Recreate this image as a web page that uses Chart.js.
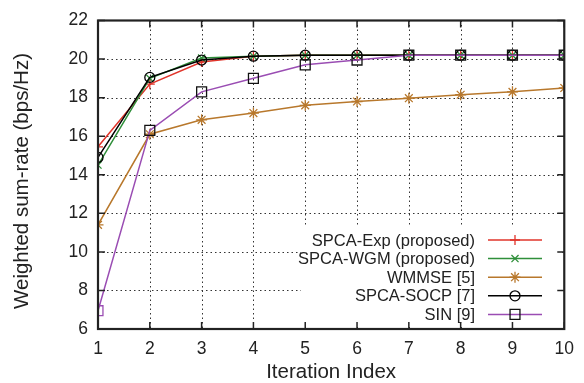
<!DOCTYPE html>
<html>
<head>
<meta charset="utf-8">
<script src="https://cdn.jsdelivr.net/npm/chart.js@4/dist/chart.umd.min.js"></script>
<style>
  html, body { margin: 0; padding: 0; background: #fff; }
  #wrap { width: 584px; height: 383px; }
</style>
</head>
<body>
<div id="wrap"><canvas id="c" width="584" height="383"></canvas></div>
<script>
// --- Data ---
const iterations = [1, 2, 3, 4, 5, 6, 7, 8, 9, 10];
const yTicks = [6, 8, 10, 12, 14, 16, 18, 20, 22];

const spcaExp = [15.45, 18.7, 19.85, 20.15, 20.2, 20.2, 20.2, 20.2, 20.2, 20.2];
const spcaWgm = [14.5, 19.0, 20.05, 20.15, 20.2, 20.2, 20.2, 20.2, 20.2, 20.2];
const wmmse = [11.4, 16.1, 16.85, 17.2, 17.6, 17.8, 17.97, 18.15, 18.3, 18.5];
const spcaSocp = [14.9, 19.05, 19.95, 20.15, 20.2, 20.2, 20.2, 20.2, 20.2, 20.2];
const sin = [6.95, 16.3, 18.3, 19.0, 19.7, 19.95, 20.2, 20.2, 20.2, 20.2];

const seriesNames = [
  "SPCA-Exp (proposed)",
  "SPCA-WGM (proposed)",
  "WMMSE [5]",
  "SPCA-SOCP [7]",
  "SIN [9]",
];
const seriesValues = [spcaExp, spcaWgm, wmmse, spcaSocp, sin];
const yTitle = "Weighted sum-rate (bps/Hz)";

// --- Styles ---
const LINE_COLORS = ["#e0352b", "#2f8f3a", "#b8782c", "#000000", "#9a4db3"];
const POINT_COLORS = ["#e0352b", "#2f8f3a", "#b8782c", "#000000", "#111111"];
const POINT_STYLES = ["cross", "crossRot", "star", "circle", "rect"];
const POINT_RADII = [5, 5, 5.5, 5, 7];
const FONT = "'Liberation Sans', Arial, Helvetica, sans-serif";

const datasets = seriesValues.map((vals, i) => ({
  label: seriesNames[i],
  data: vals.map((v, k) => ({ x: iterations[k], y: v })),
  borderColor: LINE_COLORS[i],
  borderWidth: 1.5,
  pointStyle: POINT_STYLES[i],
  pointRadius: POINT_RADII[i],
  // the first SIN square is drawn in the line colour in the original
  pointBorderColor: i === 4
    ? vals.map((v, k) => (k === 0 ? LINE_COLORS[i] : POINT_COLORS[i]))
    : POINT_COLORS[i],
  pointBackgroundColor: "rgba(0,0,0,0)",
  pointBorderWidth: 1.3,
  tension: 0,
  order: 5 - i, // later series drawn on top
}));

// --- Gnuplot-like frame: dotted grid, inward ticks, box, legend ---
const framePlugin = {
  id: "frame",
  beforeDatasetsDraw(chart) {
    const { ctx, chartArea: a, scales } = chart;
    ctx.save();
    // dotted grid
    ctx.strokeStyle = "#333";
    ctx.lineWidth = 1;
    ctx.setLineDash([1.5, 3]);
    iterations.slice(1, -1).forEach((v) => {
      const x = Math.round(scales.x.getPixelForValue(v)) + 0.5;
      ctx.beginPath();
      ctx.moveTo(x, a.top);
      ctx.lineTo(x, a.bottom);
      ctx.stroke();
    });
    yTicks.slice(1, -1).forEach((v) => {
      const y = Math.round(scales.y.getPixelForValue(v)) + 0.5;
      ctx.beginPath();
      ctx.moveTo(a.left, y);
      ctx.lineTo(a.right, y);
      ctx.stroke();
    });
    ctx.setLineDash([]);
    // white legend box (covers grid)
    ctx.fillStyle = "#fff";
    ctx.fillRect(301, 226, a.right - 301 - 2, a.bottom - 226 - 2);
    ctx.restore();
  },
  afterDatasetsDraw(chart) {
    const { ctx, chartArea: a, scales } = chart;
    ctx.save();
    // inward tick marks
    ctx.strokeStyle = "#222";
    ctx.lineWidth = 1.5;
    const tl = 7;
    iterations.forEach((v) => {
      const x = scales.x.getPixelForValue(v);
      ctx.beginPath();
      ctx.moveTo(x, a.bottom);
      ctx.lineTo(x, a.bottom - tl);
      ctx.moveTo(x, a.top);
      ctx.lineTo(x, a.top + tl);
      ctx.stroke();
    });
    yTicks.forEach((v) => {
      const y = scales.y.getPixelForValue(v);
      ctx.beginPath();
      ctx.moveTo(a.left, y);
      ctx.lineTo(a.left + tl, y);
      ctx.moveTo(a.right, y);
      ctx.lineTo(a.right - tl, y);
      ctx.stroke();
    });
    // border box
    ctx.strokeStyle = "#222";
    ctx.lineWidth = 2.2;
    ctx.strokeRect(a.left, a.top, a.right - a.left, a.bottom - a.top);

    // y title (sits a bit below the axis centre in the original)
    ctx.save();
    ctx.translate(22, 181);
    ctx.rotate(-Math.PI / 2);
    ctx.font = "20.5px " + FONT;
    ctx.fillStyle = "#222";
    ctx.textAlign = "center";
    ctx.textBaseline = "middle";
    ctx.fillText(yTitle, 0, 0);
    ctx.restore();

    // legend
    const textRight = 475;
    const lineX0 = 488;
    const lineX1 = 542;
    const y0 = 240;
    const dy = 18.6;
    ctx.font = "16.5px " + FONT;
    ctx.textAlign = "right";
    ctx.textBaseline = "middle";
    seriesNames.forEach((name, i) => {
      const y = y0 + i * dy;
      ctx.fillStyle = "#222";
      ctx.fillText(name, textRight, y + 1);
      ctx.strokeStyle = LINE_COLORS[i];
      ctx.lineWidth = 1.5;
      ctx.beginPath();
      ctx.moveTo(lineX0, y);
      ctx.lineTo(lineX1, y);
      ctx.stroke();
      ctx.strokeStyle = POINT_COLORS[i];
      ctx.fillStyle = "rgba(0,0,0,0)";
      ctx.lineWidth = 1.3;
      Chart.helpers.drawPoint(ctx, {
        pointStyle: POINT_STYLES[i],
        rotation: 0,
        radius: POINT_RADII[i],
        borderWidth: 1.3,
      }, 515, y);
    });
    ctx.restore();
  },
};

new Chart(document.getElementById("c"), {
  type: "line",
  data: { datasets },
  options: {
    responsive: false,
    animation: false,
    devicePixelRatio: 1,
    layout: { padding: { top: 17, right: 18, left: 0, bottom: 0 } },
    plugins: { legend: { display: false }, tooltip: { enabled: false } },
    scales: {
      x: {
        type: "linear",
        min: 1,
        max: 10,
        afterFit: (s) => { s.height = 54; },
        afterBuildTicks: (s) => { s.ticks = iterations.map((v) => ({ value: v })); },
        grid: { display: false, drawTicks: false },
        border: { display: false },
        ticks: {
          color: "#222",
          font: { family: FONT, size: 17.5 },
          padding: 10,
          maxRotation: 0,
        },
        title: {
          display: true,
          text: "Iteration Index",
          color: "#222",
          font: { family: FONT, size: 20.5 },
          padding: { top: 0, bottom: -2 },
        },
      },
      y: {
        type: "linear",
        min: 6,
        max: 22,
        afterFit: (s) => { s.width = 98; },
        afterBuildTicks: (s) => { s.ticks = yTicks.map((v) => ({ value: v })); },
        grid: { display: false, drawTicks: false },
        border: { display: false },
        ticks: {
          color: "#222",
          font: { family: FONT, size: 17.5 },
          padding: 10,
        },
        title: { display: false },
      },
    },
  },
  plugins: [framePlugin],
});
</script>
</body>
</html>
